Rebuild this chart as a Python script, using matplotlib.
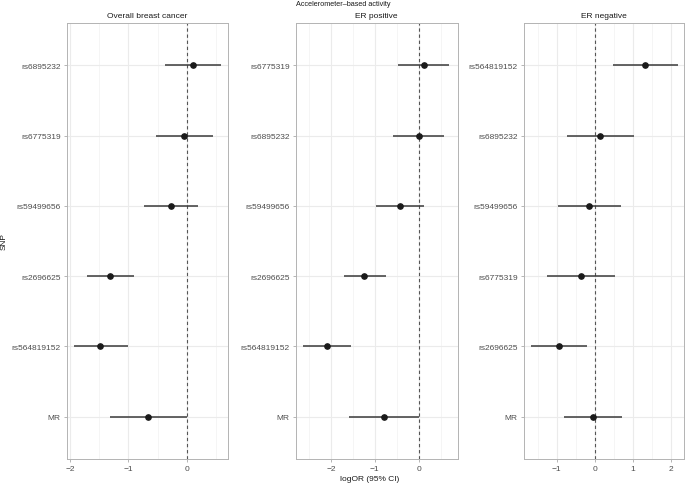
import matplotlib
matplotlib.use("Agg")
import matplotlib.pyplot as plt
from matplotlib.ticker import MultipleLocator

plt.rcParams['font.family'] = ['Liberation Sans', 'DejaVu Sans']

titles = ["Overall breast cancer", "ER positive", "ER negative"]

# SNP order top -> bottom per panel
snps_overall = ["rs6895232", "rs6775319", "rs59499656", "rs2696625", "rs564819152", "MR"]
est_overall = [0.10, -0.05, -0.27, -1.31, -1.48, -0.67]
lo_overall = [-0.38, -0.53, -0.73, -1.71, -1.94, -1.32]
hi_overall = [0.58, 0.45, 0.19, -0.91, -1.01, 0.0]

snps_erpos = ["rs6775319", "rs6895232", "rs59499656", "rs2696625", "rs564819152", "MR"]
est_erpos = [0.12, 0.0, -0.42, -1.24, -2.09, -0.80]
lo_erpos = [-0.47, -0.58, -0.96, -1.71, -2.64, -1.58]
hi_erpos = [0.70, 0.57, 0.13, -0.75, -1.55, 0.0]

snps_erneg = ["rs564819152", "rs6895232", "rs59499656", "rs6775319", "rs2696625", "MR"]
est_erneg = [1.33, 0.15, -0.15, -0.35, -0.95, -0.05]
lo_erneg = [0.48, -0.73, -0.98, -1.25, -1.68, -0.80]
hi_erneg = [2.18, 1.03, 0.68, 0.53, -0.21, 0.71]

xlims = [(-2.06, 0.70), (-2.80, 0.89), (-1.87, 2.35)]
xticks = [[-2, -1, 0], [-2, -1, 0], [-1, 0, 1, 2]]

W, H = 685, 485
fig = plt.figure(figsize=(W / 100, H / 100), dpi=100)

panels_px = [(66.7, 227.5), (295.7, 457.7), (523.7, 684.0)]
top_px, bot_px = 24, 460

data = [
    (snps_overall, est_overall, lo_overall, hi_overall),
    (snps_erpos, est_erpos, lo_erpos, hi_erpos),
    (snps_erneg, est_erneg, lo_erneg, hi_erneg),
]

for i, ((l, r), (snps, est, lo, hi)) in enumerate(zip(panels_px, data)):
    ax = fig.add_axes([l / W, (H - bot_px) / H, (r - l) / W, (bot_px - top_px) / H])
    n = len(snps)
    ypos = list(range(n - 1, -1, -1))
    ax.set_xlim(*xlims[i])
    ax.set_ylim(-0.6, n - 1 + 0.6)
    ax.set_xticks(xticks[i])
    ax.set_xticklabels([("\u2212%d" % -t) if t < 0 else str(t) for t in xticks[i]])
    ax.xaxis.set_minor_locator(MultipleLocator(0.5))
    ax.set_yticks(ypos)
    ax.set_yticklabels(snps)
    ax.grid(True, which='major', color='#ebebeb', lw=0.8, zorder=0)
    ax.grid(True, which='minor', axis='x', color='#f2f2f2', lw=0.5, zorder=0)
    ax.set_axisbelow(True)
    ax.tick_params(which='major', length=2.2, width=0.5, color='#999999',
                   labelsize=6.0, labelcolor='#4d4d4d', pad=2.0)
    ax.tick_params(which='minor', length=0)
    for s in ax.spines.values():
        s.set_color('#b3b3b3')
        s.set_linewidth(0.7)
    ax.axvline(0, color='#555555', lw=0.8, ls=(0, (3, 2.5)), zorder=1)
    ax.hlines(ypos, lo, hi, color='#3a3a3a', lw=1.1, zorder=2)
    ax.plot(est, ypos, 'o', color='#1a1a1a', ms=3.8, zorder=3)
    ax.set_title(titles[i], fontsize=6.0, color='#1a1a1a', pad=4.5)

fig.text(343 / W, 1 - 5 / H, "Accelerometer\u2013based activity", ha='center', va='center',
         fontsize=5.2, color='#1a1a1a')
fig.text(370 / W, 1 - 480 / H, "logOR (95% CI)", ha='center', va='center',
         fontsize=6.0, color='#1a1a1a')
fig.text(4 / W, 1 - 242 / H, "SNP", ha='center', va='center', rotation=90,
         fontsize=6.0, color='#1a1a1a')

fig.savefig("out.png", dpi=100)
